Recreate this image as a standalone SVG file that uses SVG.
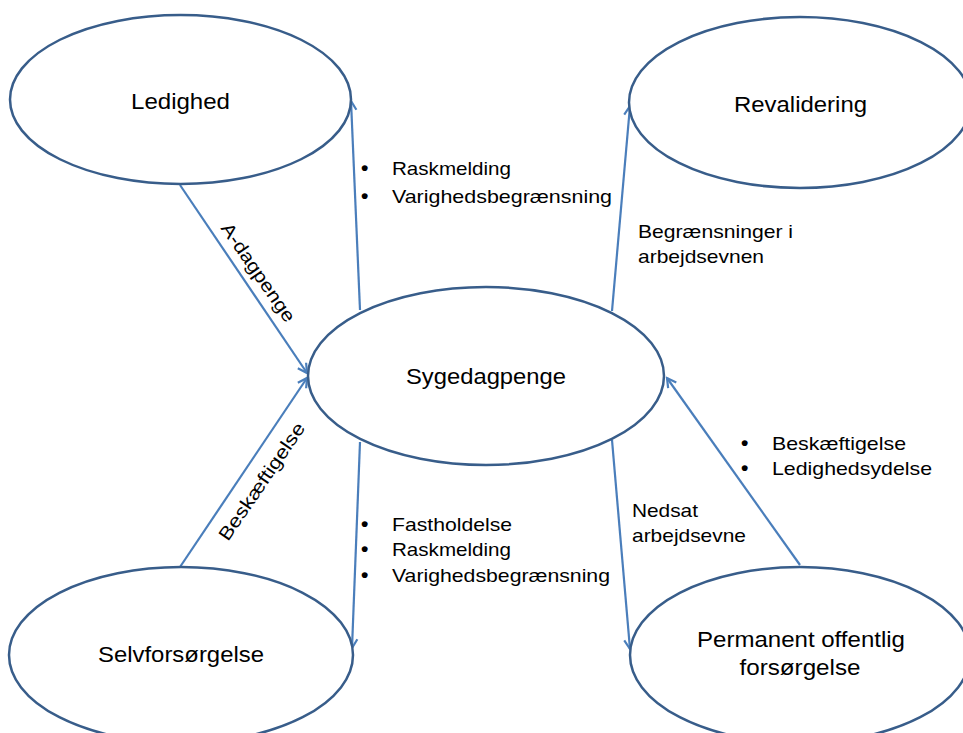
<svg xmlns="http://www.w3.org/2000/svg" width="963" height="733" viewBox="0 0 963 733">
<style>
.node ellipse{fill:#fff;stroke:#385d8a;stroke-width:2.5}
.nt{font-family:"Liberation Sans",Arial,sans-serif;font-size:22.5px;fill:#000;text-anchor:middle}
.lt{font-family:"Liberation Sans",Arial,sans-serif;font-size:18.5px;fill:#000}
.bl{font-family:"Liberation Sans",Arial,sans-serif;font-size:21px;font-weight:bold;fill:#000}
.conn line{stroke:#4a7ebb;stroke-width:2.2;marker-end:url(#arr)}
</style>
<defs>
<marker id="arr" viewBox="-12 -7 14 14" markerWidth="14" markerHeight="14" refX="0" refY="0" orient="auto" markerUnits="userSpaceOnUse">
<path d="M-9,-5 L0,0 L-9,5" fill="none" stroke="#4a7ebb" stroke-width="2.2"/>
</marker>
</defs>
<rect width="963" height="733" fill="#fff"/>
<g id="connectors" class="conn">
<line x1="360" y1="310" x2="351" y2="101"/>
<line x1="180" y1="185" x2="307" y2="373"/>
<line x1="180" y1="567" x2="307" y2="378"/>
<line x1="360" y1="442" x2="352" y2="648"/>
<line x1="612" y1="311" x2="630" y2="106"/>
<line x1="612" y1="440" x2="630" y2="649"/>
<line x1="800" y1="565" x2="667" y2="378"/>
</g>
<g id="ledighed" class="node">
<ellipse cx="180.5" cy="99.5" rx="170.5" ry="84.5"/>
<text class="nt" x="180.5" y="109" textLength="99" lengthAdjust="spacingAndGlyphs">Ledighed</text>
</g>
<g id="revalidering" class="node">
<ellipse cx="800" cy="102.5" rx="171" ry="85.5"/>
<text class="nt" x="800.5" y="112" textLength="133" lengthAdjust="spacingAndGlyphs">Revalidering</text>
</g>
<g id="sygedagpenge" class="node">
<ellipse cx="486" cy="376" rx="178" ry="89"/>
<text class="nt" x="486" y="384" textLength="160" lengthAdjust="spacingAndGlyphs">Sygedagpenge</text>
</g>
<g id="selvforsorgelse" class="node">
<ellipse cx="181" cy="655" rx="172" ry="88"/>
<text class="nt" x="181" y="662" textLength="166" lengthAdjust="spacingAndGlyphs">Selvforsørgelse</text>
</g>
<g id="permanent" class="node">
<ellipse cx="800" cy="655" rx="170" ry="88"/>
<text class="nt" x="801" y="647" textLength="208" lengthAdjust="spacingAndGlyphs">Permanent offentlig</text>
<text class="nt" x="800" y="675" textLength="121" lengthAdjust="spacingAndGlyphs">forsørgelse</text>
</g>
<g id="labels">
<text class="bl" x="361" y="175">•</text>
<text class="lt" x="392" y="175" textLength="119" lengthAdjust="spacingAndGlyphs">Raskmelding</text>
<text class="bl" x="361" y="203">•</text>
<text class="lt" x="392" y="203" textLength="220" lengthAdjust="spacingAndGlyphs">Varighedsbegrænsning</text>

<text class="bl" x="361" y="531">•</text>
<text class="lt" x="392" y="531" textLength="120" lengthAdjust="spacingAndGlyphs">Fastholdelse</text>
<text class="bl" x="361" y="556">•</text>
<text class="lt" x="392" y="556" textLength="119" lengthAdjust="spacingAndGlyphs">Raskmelding</text>
<text class="bl" x="361" y="582">•</text>
<text class="lt" x="392" y="582" textLength="218" lengthAdjust="spacingAndGlyphs">Varighedsbegrænsning</text>

<text class="lt" x="638" y="238" textLength="155" lengthAdjust="spacingAndGlyphs">Begrænsninger i</text>
<text class="lt" x="638" y="263" textLength="126" lengthAdjust="spacingAndGlyphs">arbejdsevnen</text>

<text class="bl" x="741" y="450">•</text>
<text class="lt" x="772" y="450" textLength="134" lengthAdjust="spacingAndGlyphs">Beskæftigelse</text>
<text class="bl" x="741" y="475">•</text>
<text class="lt" x="772" y="475" textLength="160" lengthAdjust="spacingAndGlyphs">Ledighedsydelse</text>

<text class="lt" x="632" y="517" textLength="66" lengthAdjust="spacingAndGlyphs">Nedsat</text>
<text class="lt" x="632" y="542" textLength="114" lengthAdjust="spacingAndGlyphs">arbejdsevne</text>

<text class="lt" text-anchor="middle" transform="translate(253,276) rotate(55.5)" textLength="116" lengthAdjust="spacingAndGlyphs">A-dagpenge</text>
<text class="lt" text-anchor="middle" transform="translate(267,485) rotate(-55.7)" textLength="138" lengthAdjust="spacingAndGlyphs">Beskæftigelse</text>
</g>
</svg>
